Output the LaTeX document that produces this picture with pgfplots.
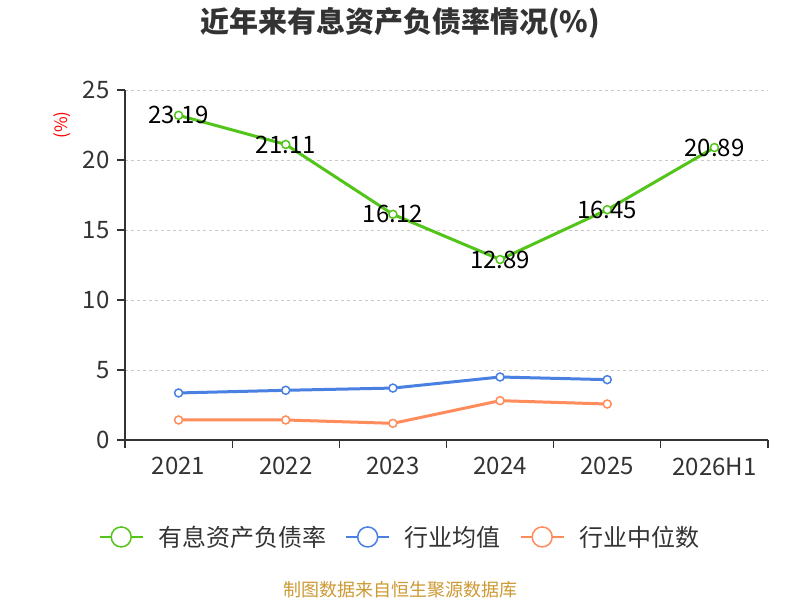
\documentclass[border=0pt]{standalone}
\usepackage{pgfplots}
\pgfplotsset{compat=1.18}
\usepackage{fontspec}
\setmainfont{Noto Sans CJK SC}
\definecolor{cgreen}{RGB}{82,196,26}
\definecolor{cblue}{RGB}{74,128,226}
\definecolor{corange}{RGB}{255,140,90}
\definecolor{caxis}{RGB}{51,51,51}
\definecolor{cgrid}{RGB}{200,200,200}
\definecolor{csrc}{RGB}{204,153,51}
\begin{document}
\begin{tikzpicture}[x=1pt,y=1pt]
\useasboundingbox (0,0) rectangle (800,600);
\node[font=\fontsize{29}{34}\selectfont\bfseries, text=caxis] at (400,577) {近年来有息资产负债率情况(\%)};
\node[rotate=90, text=red, font=\fontsize{17}{20}\selectfont] at (62,475) {(\%)};
\node[text=csrc, font=\fontsize{18}{21}\selectfont] at (400,10) {制图数据来自恒生聚源数据库};
\begin{axis}[
  at={(125pt,160pt)}, anchor=south west,
  scale only axis, width=643pt, height=350pt,
  xmin=-0.5, xmax=5.5, ymin=0, ymax=25,
  axis lines*=left,
  axis line style={caxis, line width=1.2pt, -},
  xtick={-0.5,0.5,...,5.5},
  x tick label as interval,
  xticklabels={2021,2022,2023,2024,2025,2026H1},
  ytick={0,5,...,25},
  tick style={caxis, line width=1.2pt},
  tick align=outside,
  major tick length=8pt,
  ymajorgrids,
  grid style={cgrid, dashed, line width=0.8pt},
  tick label style={font=\fontsize{24}{28}\selectfont, text=caxis},
  /pgf/number format/assume math mode=true,
  yticklabel style={xshift=-4pt},
  xticklabel style={yshift=-6pt},
  clip=false,
  legend columns=3,
  legend style={at={(0.428,-0.277)}, anchor=center, draw=none, fill=none,
    font=\fontsize{24}{28}\selectfont, text=caxis,
    /tikz/every odd column/.append style={column sep=13pt},
    /tikz/every even column/.append style={column sep=17pt}},
  legend image code/.code={
    \draw[#1, line width=1.5pt] (0pt,0pt) -- (43pt,0pt);
    \draw[#1, line width=1.5pt, fill=white] (21.5pt,0pt) circle (10pt);
  },
]
\addplot[cgreen, line width=3pt, mark=*, mark size=4pt,
  mark options={fill=white, line width=1.5pt},
  nodes near coords, point meta=explicit symbolic,
  nodes near coords style={anchor=center, text=black, font=\fontsize{24}{28}\selectfont}]
  coordinates {(0,23.19)[23.19] (1,21.11)[21.11] (2,16.12)[16.12] (3,12.89)[12.89] (4,16.45)[16.45] (5,20.89)[20.89]};
\addlegendentry{有息资产负债率}
\addplot[cblue, line width=3pt, mark=*, mark size=4pt,
  mark options={fill=white, line width=1.5pt}]
  coordinates {(0,3.36) (1,3.55) (2,3.71) (3,4.50) (4,4.31)};
\addlegendentry{行业均值}
\addplot[corange, line width=3pt, mark=*, mark size=4pt,
  mark options={fill=white, line width=1.5pt}]
  coordinates {(0,1.43) (1,1.43) (2,1.19) (3,2.81) (4,2.57)};
\addlegendentry{行业中位数}
\end{axis}
\end{tikzpicture}
\end{document}
